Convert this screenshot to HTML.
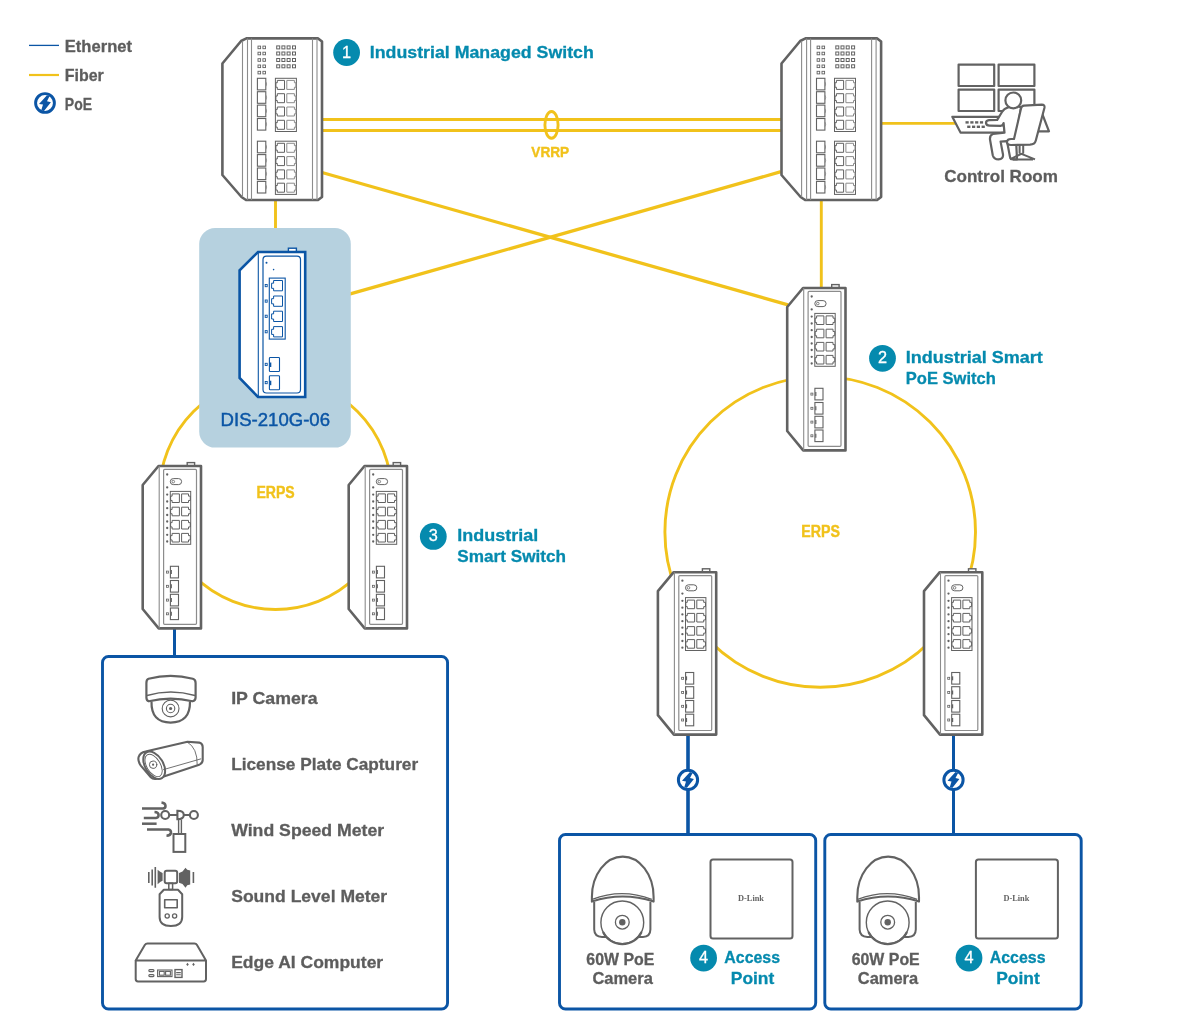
<!DOCTYPE html><html><head><meta charset="utf-8"><style>html,body{margin:0;padding:0;background:#fff;}svg{display:block;will-change:transform;}text{font-family:"Liberation Sans",sans-serif;}</style></head><body>
<svg width="1200" height="1034" viewBox="0 0 1200 1034">
<rect width="1200" height="1034" fill="#fff"/>
<defs>
<g id="ms"><path d="M246.4,38.4 L318.1,38.4 L322,41.6 L322,197 L318,200 L246,200 L241.5,197 L222.4,175 L222.4,63.5 L241.1,41 Z" fill="#fff" stroke="#626262" stroke-width="2.6" stroke-linejoin="round"/>
<path d="M242.5,41 V197 M247.5,38.4 V200 M251.5,38.4 V200 M312.5,38.4 V200 M317,38.4 V200" stroke="#8c8c8c" stroke-width="1.1" fill="none"/>
<rect x="258.00" y="46.10" width="2.6" height="2.6" fill="none" stroke="#626262" stroke-width="0.9"/>
<rect x="258.00" y="52.20" width="2.6" height="2.6" fill="none" stroke="#626262" stroke-width="0.9"/>
<rect x="258.00" y="58.70" width="2.6" height="2.6" fill="none" stroke="#626262" stroke-width="0.9"/>
<rect x="258.00" y="65.00" width="2.6" height="2.6" fill="none" stroke="#626262" stroke-width="0.9"/>
<rect x="258.00" y="71.30" width="2.6" height="2.6" fill="none" stroke="#626262" stroke-width="0.9"/>
<rect x="262.90" y="46.10" width="2.6" height="2.6" fill="none" stroke="#626262" stroke-width="0.9"/>
<rect x="262.90" y="52.20" width="2.6" height="2.6" fill="none" stroke="#626262" stroke-width="0.9"/>
<rect x="262.90" y="58.70" width="2.6" height="2.6" fill="none" stroke="#626262" stroke-width="0.9"/>
<rect x="262.90" y="65.00" width="2.6" height="2.6" fill="none" stroke="#626262" stroke-width="0.9"/>
<rect x="262.90" y="71.30" width="2.6" height="2.6" fill="none" stroke="#626262" stroke-width="0.9"/>
<rect x="276.70" y="45.90" width="3" height="3" fill="none" stroke="#626262" stroke-width="1"/>
<rect x="276.70" y="52.00" width="3" height="3" fill="none" stroke="#626262" stroke-width="1"/>
<rect x="276.70" y="58.50" width="3" height="3" fill="none" stroke="#626262" stroke-width="1"/>
<rect x="276.70" y="64.80" width="3" height="3" fill="none" stroke="#626262" stroke-width="1"/>
<rect x="281.90" y="45.90" width="3" height="3" fill="none" stroke="#626262" stroke-width="1"/>
<rect x="281.90" y="52.00" width="3" height="3" fill="none" stroke="#626262" stroke-width="1"/>
<rect x="281.90" y="58.50" width="3" height="3" fill="none" stroke="#626262" stroke-width="1"/>
<rect x="281.90" y="64.80" width="3" height="3" fill="none" stroke="#626262" stroke-width="1"/>
<rect x="287.10" y="45.90" width="3" height="3" fill="none" stroke="#626262" stroke-width="1"/>
<rect x="287.10" y="52.00" width="3" height="3" fill="none" stroke="#626262" stroke-width="1"/>
<rect x="287.10" y="58.50" width="3" height="3" fill="none" stroke="#626262" stroke-width="1"/>
<rect x="287.10" y="64.80" width="3" height="3" fill="none" stroke="#626262" stroke-width="1"/>
<rect x="292.50" y="45.90" width="3" height="3" fill="none" stroke="#626262" stroke-width="1"/>
<rect x="292.50" y="52.00" width="3" height="3" fill="none" stroke="#626262" stroke-width="1"/>
<rect x="292.50" y="58.50" width="3" height="3" fill="none" stroke="#626262" stroke-width="1"/>
<rect x="292.50" y="64.80" width="3" height="3" fill="none" stroke="#626262" stroke-width="1"/>
<rect x="257.4" y="78.30" width="8.4" height="11.6" fill="none" stroke="#626262" stroke-width="1.1"/>
<path d="M265.8,81.80 q1.5,2.3 0,4.6" fill="none" stroke="#8c8c8c" stroke-width="1"/>
<rect x="257.4" y="91.70" width="8.4" height="11.6" fill="none" stroke="#626262" stroke-width="1.1"/>
<path d="M265.8,95.20 q1.5,2.3 0,4.6" fill="none" stroke="#8c8c8c" stroke-width="1"/>
<rect x="257.4" y="105.10" width="8.4" height="11.6" fill="none" stroke="#626262" stroke-width="1.1"/>
<path d="M265.8,108.60 q1.5,2.3 0,4.6" fill="none" stroke="#8c8c8c" stroke-width="1"/>
<rect x="257.4" y="118.50" width="8.4" height="11.6" fill="none" stroke="#626262" stroke-width="1.1"/>
<path d="M265.8,122.00 q1.5,2.3 0,4.6" fill="none" stroke="#8c8c8c" stroke-width="1"/>
<rect x="275.4" y="78.30" width="21" height="53.2" fill="none" stroke="#626262" stroke-width="1.0"/>
<path d="M277.30,80.40 H284.50 V89.40 H277.30 V87.24 H275.90 V82.74 H277.30 Z" fill="none" stroke="#626262" stroke-width="1.0"/>
<path d="M294.40,80.40 H286.80 V89.40 H294.40 V87.24 H295.90 V82.74 H294.40 Z" fill="none" stroke="#8c8c8c" stroke-width="1.0"/>
<path d="M277.30,93.70 H284.50 V102.70 H277.30 V100.54 H275.90 V96.04 H277.30 Z" fill="none" stroke="#626262" stroke-width="1.0"/>
<path d="M294.40,93.70 H286.80 V102.70 H294.40 V100.54 H295.90 V96.04 H294.40 Z" fill="none" stroke="#8c8c8c" stroke-width="1.0"/>
<path d="M277.30,107.00 H284.50 V116.00 H277.30 V113.84 H275.90 V109.34 H277.30 Z" fill="none" stroke="#626262" stroke-width="1.0"/>
<path d="M294.40,107.00 H286.80 V116.00 H294.40 V113.84 H295.90 V109.34 H294.40 Z" fill="none" stroke="#8c8c8c" stroke-width="1.0"/>
<path d="M277.30,120.30 H284.50 V129.30 H277.30 V127.14 H275.90 V122.64 H277.30 Z" fill="none" stroke="#626262" stroke-width="1.0"/>
<path d="M294.40,120.30 H286.80 V129.30 H294.40 V127.14 H295.90 V122.64 H294.40 Z" fill="none" stroke="#8c8c8c" stroke-width="1.0"/>
<rect x="257.4" y="141.20" width="8.4" height="11.6" fill="none" stroke="#626262" stroke-width="1.1"/>
<path d="M265.8,144.70 q1.5,2.3 0,4.6" fill="none" stroke="#8c8c8c" stroke-width="1"/>
<rect x="257.4" y="154.60" width="8.4" height="11.6" fill="none" stroke="#626262" stroke-width="1.1"/>
<path d="M265.8,158.10 q1.5,2.3 0,4.6" fill="none" stroke="#8c8c8c" stroke-width="1"/>
<rect x="257.4" y="168.00" width="8.4" height="11.6" fill="none" stroke="#626262" stroke-width="1.1"/>
<path d="M265.8,171.50 q1.5,2.3 0,4.6" fill="none" stroke="#8c8c8c" stroke-width="1"/>
<rect x="257.4" y="181.40" width="8.4" height="11.6" fill="none" stroke="#626262" stroke-width="1.1"/>
<path d="M265.8,184.90 q1.5,2.3 0,4.6" fill="none" stroke="#8c8c8c" stroke-width="1"/>
<rect x="275.4" y="141.20" width="21" height="53.2" fill="none" stroke="#626262" stroke-width="1.0"/>
<path d="M277.30,143.30 H284.50 V152.30 H277.30 V150.14 H275.90 V145.64 H277.30 Z" fill="none" stroke="#626262" stroke-width="1.0"/>
<path d="M294.40,143.30 H286.80 V152.30 H294.40 V150.14 H295.90 V145.64 H294.40 Z" fill="none" stroke="#8c8c8c" stroke-width="1.0"/>
<path d="M277.30,156.60 H284.50 V165.60 H277.30 V163.44 H275.90 V158.94 H277.30 Z" fill="none" stroke="#626262" stroke-width="1.0"/>
<path d="M294.40,156.60 H286.80 V165.60 H294.40 V163.44 H295.90 V158.94 H294.40 Z" fill="none" stroke="#8c8c8c" stroke-width="1.0"/>
<path d="M277.30,169.90 H284.50 V178.90 H277.30 V176.74 H275.90 V172.24 H277.30 Z" fill="none" stroke="#626262" stroke-width="1.0"/>
<path d="M294.40,169.90 H286.80 V178.90 H294.40 V176.74 H295.90 V172.24 H294.40 Z" fill="none" stroke="#8c8c8c" stroke-width="1.0"/>
<path d="M277.30,183.20 H284.50 V192.20 H277.30 V190.04 H275.90 V185.54 H277.30 Z" fill="none" stroke="#626262" stroke-width="1.0"/>
<path d="M294.40,183.20 H286.80 V192.20 H294.40 V190.04 H295.90 V185.54 H294.40 Z" fill="none" stroke="#8c8c8c" stroke-width="1.0"/></g>
<g id="ss"><rect x="187.2" y="462.6" width="7.4" height="4" fill="#fff" stroke="#626262" stroke-width="1.4"/>
<path d="M158.5,466 L201,466 L201,628.4 L158.7,628.4 L142.7,609 L142.7,485 Z" fill="#fff" stroke="#626262" stroke-width="2.6" stroke-linejoin="round"/>
<path d="M159.2,466 V628.4" stroke="#8c8c8c" stroke-width="1.1"/>
<rect x="163.6" y="469.4" width="32.9" height="154.9" rx="1" fill="none" stroke="#8c8c8c" stroke-width="1.2"/>
<circle cx="167.2" cy="474.5" r="1.15" fill="#626262"/>
<circle cx="167.2" cy="487.4" r="1.15" fill="#626262"/>
<circle cx="167.2" cy="494.6" r="1.15" fill="#626262"/>
<circle cx="167.2" cy="501.5" r="1.15" fill="#626262"/>
<circle cx="167.2" cy="508.2" r="1.15" fill="#626262"/>
<circle cx="167.2" cy="515" r="1.15" fill="#626262"/>
<circle cx="167.2" cy="521.5" r="1.15" fill="#626262"/>
<circle cx="167.2" cy="528" r="1.15" fill="#626262"/>
<circle cx="167.2" cy="534.8" r="1.15" fill="#626262"/>
<circle cx="167.2" cy="541.5" r="1.15" fill="#626262"/>
<rect x="170.3" y="478.6" width="11.3" height="6" rx="3" fill="none" stroke="#626262" stroke-width="1"/>
<circle cx="173.3" cy="481.6" r="1.3" fill="none" stroke="#626262" stroke-width="0.8"/>
<rect x="170.3" y="491.4" width="20.4" height="52.9" fill="none" stroke="#626262" stroke-width="1.0"/>
<path d="M172.10,493.90 H179.40 V502.50 H172.10 V500.44 H170.60 V496.14 H172.10 Z" fill="none" stroke="#626262" stroke-width="1.0"/>
<path d="M188.50,493.90 H181.60 V502.50 H188.50 V500.44 H190.30 V496.14 H188.50 Z" fill="none" stroke="#626262" stroke-width="1.0"/>
<path d="M172.10,507.20 H179.40 V515.80 H172.10 V513.74 H170.60 V509.44 H172.10 Z" fill="none" stroke="#626262" stroke-width="1.0"/>
<path d="M188.50,507.20 H181.60 V515.80 H188.50 V513.74 H190.30 V509.44 H188.50 Z" fill="none" stroke="#626262" stroke-width="1.0"/>
<path d="M172.10,520.40 H179.40 V529.00 H172.10 V526.94 H170.60 V522.64 H172.10 Z" fill="none" stroke="#626262" stroke-width="1.0"/>
<path d="M188.50,520.40 H181.60 V529.00 H188.50 V526.94 H190.30 V522.64 H188.50 Z" fill="none" stroke="#626262" stroke-width="1.0"/>
<path d="M172.10,533.40 H179.40 V542.00 H172.10 V539.94 H170.60 V535.64 H172.10 Z" fill="none" stroke="#626262" stroke-width="1.0"/>
<path d="M188.50,533.40 H181.60 V542.00 H188.50 V539.94 H190.30 V535.64 H188.50 Z" fill="none" stroke="#626262" stroke-width="1.0"/>
<rect x="170.4" y="566.3" width="8.1" height="11.6" fill="none" stroke="#626262" stroke-width="1.1"/>
<path d="M171.3,570.1 v4" stroke="#626262" stroke-width="1.2"/>
<rect x="166.4" y="571.1" width="2" height="2" fill="none" stroke="#626262" stroke-width="0.8"/>
<rect x="170.4" y="580.5" width="8.1" height="11.6" fill="none" stroke="#626262" stroke-width="1.1"/>
<path d="M171.3,584.3 v4" stroke="#626262" stroke-width="1.2"/>
<rect x="166.4" y="585.3" width="2" height="2" fill="none" stroke="#626262" stroke-width="0.8"/>
<rect x="170.4" y="594.3" width="8.1" height="11.6" fill="none" stroke="#626262" stroke-width="1.1"/>
<path d="M171.3,598.1 v4" stroke="#626262" stroke-width="1.2"/>
<rect x="166.4" y="599.1" width="2" height="2" fill="none" stroke="#626262" stroke-width="0.8"/>
<rect x="170.4" y="608.0" width="8.1" height="11.6" fill="none" stroke="#626262" stroke-width="1.1"/>
<path d="M171.3,611.8 v4" stroke="#626262" stroke-width="1.2"/>
<rect x="166.4" y="612.8" width="2" height="2" fill="none" stroke="#626262" stroke-width="0.8"/></g>
</defs>
<path d="M29,45.4 H59" stroke="#0B55A5" stroke-width="1.3"/>
<path d="M29,75 H59" stroke="#F1C21B" stroke-width="2.2"/>
<g transform="translate(45,103.0)"><circle r="9.4" fill="#fff" stroke="#0B55A5" stroke-width="2.9"/><path d="M2,-7.8 L-6,0.9 L-2,1.6 L-3.8,7.6 L-1,7.9 L5.9,-0.8 L2,-1.8 L4.6,-7 Z" fill="#0B55A5"/></g>
<text x="64.8" y="52.4" font-size="17" font-weight="bold" fill="#5D5D5D" text-anchor="start" textLength="67.2" lengthAdjust="spacingAndGlyphs" stroke="#5D5D5D" stroke-width="0.3">Ethernet</text>
<text x="64.8" y="81" font-size="17" font-weight="bold" fill="#5D5D5D" text-anchor="start" textLength="39" lengthAdjust="spacingAndGlyphs" stroke="#5D5D5D" stroke-width="0.3">Fiber</text>
<text x="64.8" y="110" font-size="17" font-weight="bold" fill="#5D5D5D" text-anchor="start" textLength="27.2" lengthAdjust="spacingAndGlyphs" stroke="#5D5D5D" stroke-width="0.3">PoE</text>
<g stroke="#F1C21B" stroke-width="2.9" fill="none">
<path d="M322,119.5 H781 M322,130.5 H781"/>
<path d="M322,172.5 L788,304.8" stroke-width="3.3"/>
<path d="M781,171.7 L330,299.7" stroke-width="3.3"/>
<path d="M275.5,200 V230 M821.3,200 V290 M881,123.4 H956"/>
<ellipse cx="551.5" cy="124.9" rx="6.6" ry="13.4"/>
<circle cx="275.5" cy="493.5" r="116"/>
<circle cx="820.2" cy="531.9" r="155.3"/>
</g>
<text x="531.3" y="157.1" font-size="15.5" font-weight="bold" fill="#F1C21B" text-anchor="start" textLength="37.9" lengthAdjust="spacingAndGlyphs" stroke="#F1C21B" stroke-width="0.4">VRRP</text>
<text x="944.2" y="181.6" font-size="17" font-weight="bold" fill="#5D5D5D" text-anchor="start" textLength="113.8" lengthAdjust="spacingAndGlyphs" stroke="#5D5D5D" stroke-width="0.3">Control Room</text>
<g stroke="#0B55A5" stroke-width="3" fill="none">
<path d="M174.5,627 V657 M953.5,734 V835"/><path d="M688,734 V835" stroke-width="3.6"/>
</g>
<g transform="translate(688,779.9)"><circle r="9.6" fill="#fff" stroke="#0B55A5" stroke-width="3"/><path d="M2,-7.8 L-6,0.9 L-2,1.6 L-3.8,7.6 L-1,7.9 L5.9,-0.8 L2,-1.8 L4.6,-7 Z" fill="#0B55A5"/></g>
<g transform="translate(953.5,779.9)"><circle r="9.6" fill="#fff" stroke="#0B55A5" stroke-width="3"/><path d="M2,-7.8 L-6,0.9 L-2,1.6 L-3.8,7.6 L-1,7.9 L5.9,-0.8 L2,-1.8 L4.6,-7 Z" fill="#0B55A5"/></g>
<use href="#ms"/>
<use href="#ms" x="559.1"/>
<circle cx="346.6" cy="52.5" r="13.4" fill="#058AAE"/><text x="346.6" y="57.5" font-size="16.3" font-weight="normal" fill="#fff" text-anchor="middle" stroke="#fff" stroke-width="0.3">1</text>
<text x="369.8" y="57.5" font-size="17" font-weight="bold" fill="#058AAE" text-anchor="start" textLength="224" lengthAdjust="spacingAndGlyphs" stroke="#058AAE" stroke-width="0.3">Industrial Managed Switch</text>
<rect x="199.2" y="228.1" width="151.6" height="219.5" rx="16" fill="#B6D1DF"/>
<rect x="288.4" y="248.2" width="8" height="4" fill="#fff" stroke="#0B55A5" stroke-width="1.4"/>
<path d="M258,252 L305.2,252 L305.2,397 L258,397 L239.6,378 L239.6,270.3 Z" fill="#fff" stroke="#0B55A5" stroke-width="2.6" stroke-linejoin="miter"/>
<path d="M258.3,252 V397" stroke="#0B55A5" stroke-width="1.1"/>
<rect x="263" y="256.1" width="37.5" height="136.9" rx="3.5" fill="none" stroke="#0B55A5" stroke-width="1.2"/>
<circle cx="266.5" cy="262.8" r="1" fill="#0B55A5"/><circle cx="273.6" cy="269.6" r="0.8" fill="#0B55A5"/>
<rect x="269.3" y="278.1" width="15.9" height="61" fill="none" stroke="#0B55A5" stroke-width="1.1"/>
<path d="M273.60,280.50 H282.50 V290.80 H273.60 V288.33 H271.60 V283.18 H273.60 Z" fill="none" stroke="#0B55A5" stroke-width="1.0"/>
<rect x="265.2" y="284.5" width="2" height="2.2" fill="none" stroke="#0B55A5" stroke-width="0.9"/>
<path d="M273.60,296.00 H282.50 V306.30 H273.60 V303.83 H271.60 V298.68 H273.60 Z" fill="none" stroke="#0B55A5" stroke-width="1.0"/>
<rect x="265.2" y="300.0" width="2" height="2.2" fill="none" stroke="#0B55A5" stroke-width="0.9"/>
<path d="M273.60,311.20 H282.50 V321.50 H273.60 V319.03 H271.60 V313.88 H273.60 Z" fill="none" stroke="#0B55A5" stroke-width="1.0"/>
<rect x="265.2" y="315.2" width="2" height="2.2" fill="none" stroke="#0B55A5" stroke-width="0.9"/>
<path d="M273.60,326.60 H282.50 V336.90 H273.60 V334.43 H271.60 V329.28 H273.60 Z" fill="none" stroke="#0B55A5" stroke-width="1.0"/>
<rect x="265.2" y="330.6" width="2" height="2.2" fill="none" stroke="#0B55A5" stroke-width="0.9"/>
<rect x="269.4" y="357.5" width="10.1" height="14" rx="0.8" fill="none" stroke="#0B55A5" stroke-width="1.1"/>
<path d="M270.6,362.5 v4.5" stroke="#0B55A5" stroke-width="1.4"/>
<rect x="265.2" y="363.3" width="2" height="2.2" fill="none" stroke="#0B55A5" stroke-width="0.9"/>
<rect x="269.4" y="375.7" width="10.1" height="14" rx="0.8" fill="none" stroke="#0B55A5" stroke-width="1.1"/>
<path d="M270.6,380.7 v4.5" stroke="#0B55A5" stroke-width="1.4"/>
<rect x="265.2" y="381.5" width="2" height="2.2" fill="none" stroke="#0B55A5" stroke-width="0.9"/>
<text x="220.6" y="425.5" font-size="18.2" font-weight="normal" fill="#0B55A5" text-anchor="start" textLength="109.4" lengthAdjust="spacingAndGlyphs" stroke="#0B55A5" stroke-width="0.45">DIS-210G-06</text>
<use href="#ss"/>
<use href="#ss" x="206"/>
<use href="#ss" x="644.5" y="-178"/>
<use href="#ss" x="515.2" y="106.2"/>
<use href="#ss" x="781.3" y="106.2"/>
<text x="256.4" y="497.7" font-size="16" font-weight="bold" fill="#F1C21B" text-anchor="start" textLength="38.2" lengthAdjust="spacingAndGlyphs" stroke="#F1C21B" stroke-width="0.4">ERPS</text>
<text x="801.3" y="536.6" font-size="16" font-weight="bold" fill="#F1C21B" text-anchor="start" textLength="38.7" lengthAdjust="spacingAndGlyphs" stroke="#F1C21B" stroke-width="0.4">ERPS</text>
<circle cx="433.3" cy="536.4" r="13.4" fill="#058AAE"/><text x="433.3" y="541.4" font-size="16.3" font-weight="normal" fill="#fff" text-anchor="middle" stroke="#fff" stroke-width="0.3">3</text>
<text x="457.3" y="540.5" font-size="17" font-weight="bold" fill="#058AAE" text-anchor="start" textLength="81" lengthAdjust="spacingAndGlyphs" stroke="#058AAE" stroke-width="0.3">Industrial</text>
<text x="457.3" y="561.5" font-size="17" font-weight="bold" fill="#058AAE" text-anchor="start" textLength="108.7" lengthAdjust="spacingAndGlyphs" stroke="#058AAE" stroke-width="0.3">Smart Switch</text>
<circle cx="882.5" cy="358.3" r="13.4" fill="#058AAE"/><text x="882.5" y="363.3" font-size="16.3" font-weight="normal" fill="#fff" text-anchor="middle" stroke="#fff" stroke-width="0.3">2</text>
<text x="905.8" y="362.8" font-size="17" font-weight="bold" fill="#058AAE" text-anchor="start" textLength="137" lengthAdjust="spacingAndGlyphs" stroke="#058AAE" stroke-width="0.3">Industrial Smart</text>
<text x="905.8" y="383.8" font-size="17" font-weight="bold" fill="#058AAE" text-anchor="start" textLength="90" lengthAdjust="spacingAndGlyphs" stroke="#058AAE" stroke-width="0.3">PoE Switch</text>
<g fill="none" stroke="#0B55A5" stroke-width="2.9">
<rect x="102.5" y="656.45" width="345.05" height="352.6" rx="6"/>
<rect x="559.5" y="834.5" width="256.2" height="174.5" rx="6"/>
<rect x="824.8" y="834.5" width="256.4" height="174.5" rx="6"/>
</g>
<text x="231.2" y="703.6" font-size="17" font-weight="bold" fill="#5D5D5D" text-anchor="start" textLength="86.3" lengthAdjust="spacingAndGlyphs" stroke="#5D5D5D" stroke-width="0.3">IP Camera</text>
<text x="231.2" y="769.6" font-size="17" font-weight="bold" fill="#5D5D5D" text-anchor="start" textLength="187" lengthAdjust="spacingAndGlyphs" stroke="#5D5D5D" stroke-width="0.3">License Plate Capturer</text>
<text x="231.2" y="835.6" font-size="17" font-weight="bold" fill="#5D5D5D" text-anchor="start" textLength="153" lengthAdjust="spacingAndGlyphs" stroke="#5D5D5D" stroke-width="0.3">Wind Speed Meter</text>
<text x="231.2" y="901.6" font-size="17" font-weight="bold" fill="#5D5D5D" text-anchor="start" textLength="156" lengthAdjust="spacingAndGlyphs" stroke="#5D5D5D" stroke-width="0.3">Sound Level Meter</text>
<text x="231.2" y="967.6" font-size="17" font-weight="bold" fill="#5D5D5D" text-anchor="start" textLength="152" lengthAdjust="spacingAndGlyphs" stroke="#5D5D5D" stroke-width="0.3">Edge AI Computer</text>
<g transform="translate(0,0)">
<text x="586.3" y="964.6" font-size="16.5" font-weight="bold" fill="#5D5D5D" text-anchor="start" textLength="68" lengthAdjust="spacingAndGlyphs" stroke="#5D5D5D" stroke-width="0.3">60W PoE</text>
<text x="592.4" y="984" font-size="16.5" font-weight="bold" fill="#5D5D5D" text-anchor="start" textLength="60.4" lengthAdjust="spacingAndGlyphs" stroke="#5D5D5D" stroke-width="0.3">Camera</text>
<rect x="710.5" y="859.4" width="82" height="79.1" rx="2.5" fill="none" stroke="#626262" stroke-width="2"/>
<text x="738" y="901" font-size="7.6" font-weight="bold" fill="#626262" textLength="26" lengthAdjust="spacingAndGlyphs" style="font-family:'Liberation Serif',serif">D-Link</text>
<circle cx="703.6" cy="958.1" r="13.4" fill="#058AAE"/><text x="703.6" y="963.1" font-size="16.3" font-weight="normal" fill="#fff" text-anchor="middle" stroke="#fff" stroke-width="0.3">4</text>
<text x="724.3" y="963.2" font-size="17" font-weight="bold" fill="#058AAE" text-anchor="start" textLength="55.8" lengthAdjust="spacingAndGlyphs" stroke="#058AAE" stroke-width="0.3">Access</text>
<text x="730.8" y="983.5" font-size="17" font-weight="bold" fill="#058AAE" text-anchor="start" textLength="43.5" lengthAdjust="spacingAndGlyphs" stroke="#058AAE" stroke-width="0.3">Point</text>
</g>
<g transform="translate(265.4,0)">
<text x="586.3" y="964.6" font-size="16.5" font-weight="bold" fill="#5D5D5D" text-anchor="start" textLength="68" lengthAdjust="spacingAndGlyphs" stroke="#5D5D5D" stroke-width="0.3">60W PoE</text>
<text x="592.4" y="984" font-size="16.5" font-weight="bold" fill="#5D5D5D" text-anchor="start" textLength="60.4" lengthAdjust="spacingAndGlyphs" stroke="#5D5D5D" stroke-width="0.3">Camera</text>
<rect x="710.5" y="859.4" width="82" height="79.1" rx="2.5" fill="none" stroke="#626262" stroke-width="2"/>
<text x="738" y="901" font-size="7.6" font-weight="bold" fill="#626262" textLength="26" lengthAdjust="spacingAndGlyphs" style="font-family:'Liberation Serif',serif">D-Link</text>
<circle cx="703.6" cy="958.1" r="13.4" fill="#058AAE"/><text x="703.6" y="963.1" font-size="16.3" font-weight="normal" fill="#fff" text-anchor="middle" stroke="#fff" stroke-width="0.3">4</text>
<text x="724.3" y="963.2" font-size="17" font-weight="bold" fill="#058AAE" text-anchor="start" textLength="55.8" lengthAdjust="spacingAndGlyphs" stroke="#058AAE" stroke-width="0.3">Access</text>
<text x="730.8" y="983.5" font-size="17" font-weight="bold" fill="#058AAE" text-anchor="start" textLength="43.5" lengthAdjust="spacingAndGlyphs" stroke="#058AAE" stroke-width="0.3">Point</text>
</g>
<g fill="none" stroke="#626262" stroke-width="2.2" stroke-linejoin="round" stroke-linecap="round">
<rect x="958.6" y="64.6" width="35.6" height="21.4"/>
<rect x="998.6" y="64.6" width="35.8" height="21.4"/>
<rect x="958.6" y="89.6" width="35.6" height="21.4"/>
<rect x="998.6" y="89.6" width="35.8" height="21.4"/>
</g>
<path d="M1041.5,112 L1049,131.3 L1037,131.3 Z" fill="#fff" stroke="#626262" stroke-width="2.2" stroke-linejoin="round"/>
<path d="M952.3,116.8 L1002,116.8 L1005,132.6 L960.5,132.6 Z" fill="#fff" stroke="#626262" stroke-width="2.2" stroke-linejoin="round"/>
<rect x="965.5" y="121.2" width="3.2" height="2.4" fill="#626262"/>
<rect x="970.3" y="121.2" width="3.2" height="2.4" fill="#626262"/>
<rect x="975.1" y="121.2" width="3.2" height="2.4" fill="#626262"/>
<rect x="979.9" y="121.2" width="3.2" height="2.4" fill="#626262"/>
<rect x="967.2" y="125.6" width="3.2" height="2.4" fill="#626262"/>
<rect x="972.0" y="125.6" width="3.2" height="2.4" fill="#626262"/>
<rect x="976.8" y="125.6" width="3.2" height="2.4" fill="#626262"/>
<rect x="981.6" y="125.6" width="3.2" height="2.4" fill="#626262"/>
<path d="M1008,107.5 Q1004,108.5 1002,112 L997.2,119.8 L989,120.2 Q986,120.5 986,123 Q986.3,125.6 989.5,125.6 L1000.5,125.8 Q1003,125.6 1003.6,123 L1004.5,132.6 L993,134 Q989.6,135 990,139.5 L992.8,155.5 Q994,159.4 998.5,159.4 Q1003.5,159 1003,154.5 L1000.6,141.6 L1007,141.2 L1010,157 Q1010.5,159.4 1013,159.4 L1017,159.4 L1016,139 L1021,107.5 Q1014,103 1008,107.5 Z" fill="#fff" stroke="#626262" stroke-width="2.2" stroke-linejoin="round"/>
<circle cx="1013.3" cy="100.4" r="7.9" fill="#fff" stroke="#626262" stroke-width="2.2"/>
<path d="M1024,105.6 L1041.8,104.6 Q1045,104.6 1044.4,108 L1035.8,140.5 Q1034.8,144.5 1030,144.7 L1011,145 Q1006.8,145 1007,141.5 Q1007.5,138.8 1011.5,139 L1014,139 L1021,108.5 Q1021.7,105.8 1024,105.6 Z" fill="#fff" stroke="#626262" stroke-width="2.2" stroke-linejoin="round"/>
<path d="M1019.6,145 V153.5 M1023.2,145 V153.5 M1010,159.4 L1021.4,153.8 L1035,159.4 M1013,159.4 H1033" fill="none" stroke="#626262" stroke-width="2" stroke-linejoin="round"/>
<g fill="none" stroke="#626262" stroke-linejoin="round">
<path d="M151.5,701.5 Q151,722.6 170.6,722.6 Q190.3,722.6 190,701.5" stroke-width="2.2" fill="#fff"/>
<path d="M148.5,678.8 Q170.6,673 192.8,678.8 Q195.6,679.6 195.6,683 V697.5 Q195.6,700.6 192.5,701.3 Q170.6,696 148.8,701.3 Q146.4,700.6 146.4,697.5 V683 Q146.4,679.6 148.5,678.8 Z" stroke-width="2.2" fill="#fff"/>
<path d="M147,695.5 Q170.6,688.5 195,695.5" stroke-width="1.4"/>
<circle cx="170.6" cy="708.5" r="8.4" stroke-width="1.1"/>
<circle cx="170.6" cy="708.5" r="4.2" stroke-width="1.1"/>
<circle cx="170.6" cy="708.5" r="1.6" fill="#626262" stroke="none"/>
</g>
<g fill="none" stroke="#626262" stroke-linejoin="round" stroke-linecap="round">
<path d="M145.5,751.6 L187.5,741.7 L199.2,742.6 Q202.7,743.5 202.7,747 L202.7,760.1 Q202.5,763.8 199.2,764.8 L157,778.7 Q153,779.6 150.8,777.3 L140.8,765.6 Q137.6,761.2 138.6,757 Q140.2,752.5 145.5,751.6 Z" stroke-width="2.1" fill="#fff"/>
<ellipse cx="154.2" cy="765.2" rx="9" ry="15" transform="rotate(-31 154.2 765.2)" stroke-width="2" fill="#fff"/>
<ellipse cx="153.6" cy="765.4" rx="6.8" ry="12.4" transform="rotate(-31 153.6 765.4)" stroke-width="0.9"/>
<path d="M163.5,769.6 L200.8,758.9 M187.5,742.2 Q197.5,748 197.2,764.4" stroke-width="0.9"/>
<circle cx="153.1" cy="764.7" r="3.7" stroke-width="1"/>
<circle cx="153.1" cy="764.7" r="1.1" fill="#626262" stroke="none"/>
</g>
<g fill="none" stroke="#626262" stroke-width="2.1" stroke-linecap="butt">
<path stroke-width="2.5" d="M142,808.6 H163 Q165.8,808.2 165.5,805.6 Q165.2,803 161.5,802.5"/>
<path stroke-width="2.5" d="M143.8,818 H156 Q158.6,817.6 158.6,815 Q158.6,812.2 154.5,812"/>
<path stroke-width="2.5" d="M142,823.7 H156.6"/>
<path stroke-width="2.5" d="M147,829.4 H168.5 Q171.2,829.8 171,832.8 Q170.6,835.6 166.5,835.8"/>
<circle cx="165.2" cy="815" r="4"/>
<circle cx="193.9" cy="815" r="4"/>
<path d="M169.2,815 H177.3 M184,815 H189.9"/>
<path d="M177.4,810.8 V819.2 Q183.8,819.2 183.8,815 Q183.8,810.8 177.4,810.8 Z"/>
<path d="M178.6,819.5 V834 M181.4,819.5 V834" stroke-width="1.4"/>
<rect x="173.5" y="834" width="11.8" height="17.9" stroke-width="2"/>
</g>
<g fill="none" stroke="#626262" stroke-width="2" stroke-linejoin="round">
<rect x="164.7" y="870.8" width="12.5" height="12.5" rx="2"/>
<rect x="168.8" y="883.3" width="3.8" height="6.3" stroke-width="1.5"/>
<path d="M163.8,889.7 H178 L182.2,894.2 V917 Q182.2,926 170.9,926 Q159.6,926 159.6,917 V894.2 Z"/>
<rect x="164.7" y="899.7" width="12.5" height="8.1" stroke-width="1.6"/>
<circle cx="167.2" cy="916" r="2.1" stroke-width="1.3"/>
<circle cx="174.6" cy="916" r="2.1" stroke-width="1.3"/>
<path d="M148.8,872 V883 M152.2,869.5 V885.5 M155.3,867 V887.8" stroke-width="1.6"/>
<path d="M193.4,872 V883" stroke-width="1.6"/>
</g>
<path d="M157.6,869.8 L160.2,871.8 L162.6,873 V880.8 L160.2,882 L157.6,884.2 Z" fill="#626262"/>
<path d="M179,873 L182.5,871.5 L185.5,867.8 L187.2,869.8 L190.2,870.5 V884.5 L187.2,885.2 L185.5,887.8 L182.5,884 L179,882.8 Z" fill="#626262"/>
<g fill="none" stroke="#626262" stroke-width="2" stroke-linejoin="round">
<path d="M147.5,943.6 H194.4 Q196.2,943.6 197,945 L206,960.6 H135.7 L144.8,945 Q145.7,943.6 147.5,943.6 Z"/>
<path d="M135.7,960.6 V979 Q135.7,981.4 138,981.4 H203.7 Q206,981.4 206,979 V960.6"/>
</g>
<g fill="none" stroke="#626262" stroke-width="1.1">
<rect x="148.8" y="969.6" width="5.2" height="2" rx="1"/>
<rect x="148.8" y="974.6" width="5.2" height="2" rx="1"/>
<rect x="157.6" y="970" width="14.4" height="6.6"/>
<rect x="159.4" y="971.4" width="4.8" height="3.8"/>
<rect x="165.6" y="971.4" width="4.8" height="3.8"/>
<rect x="175" y="969.6" width="7" height="7.8" stroke-width="1.4"/>
<path d="M176.2,972.6 H180.8 M176.2,974.8 H180.8"/>
</g>
<path d="M187.5,962.8 l1.3,1.6 -1.3,1.6 -1.3,-1.6 Z M193.5,962.8 l1.3,1.6 -1.3,1.6 -1.3,-1.6 Z" fill="#626262"/>
<g transform="translate(0,0)" fill="none" stroke="#626262" stroke-linejoin="round">
<path d="M594.2,902 V929.5 Q594.4,936.8 602,936.9 L643,936.9 Q650.3,936.8 650.4,929.5 V902" stroke-width="2" fill="#fff"/>
<path d="M591.9,901.6 V897 A30.85,40.4 0 0 1 653.6,897 V901.6 Q622.6,891.5 591.9,901.6 Z" stroke-width="2.1" fill="#fff"/>
<path d="M592.2,899.4 Q621.8,888 651.8,899.4" stroke-width="1.2"/>
<circle cx="622.3" cy="922.4" r="21.4" stroke-width="1.4" fill="#fff"/>
<path d="M603,932 A21.4,21.4 0 0 0 641.6,932" stroke-width="2.2"/>
<circle cx="622.3" cy="922.2" r="6.9" stroke-width="1.3"/>
<circle cx="622.3" cy="922.2" r="3.2" fill="#626262" stroke="none"/>
</g>
<g transform="translate(265.4,0)" fill="none" stroke="#626262" stroke-linejoin="round">
<path d="M594.2,902 V929.5 Q594.4,936.8 602,936.9 L643,936.9 Q650.3,936.8 650.4,929.5 V902" stroke-width="2" fill="#fff"/>
<path d="M591.9,901.6 V897 A30.85,40.4 0 0 1 653.6,897 V901.6 Q622.6,891.5 591.9,901.6 Z" stroke-width="2.1" fill="#fff"/>
<path d="M592.2,899.4 Q621.8,888 651.8,899.4" stroke-width="1.2"/>
<circle cx="622.3" cy="922.4" r="21.4" stroke-width="1.4" fill="#fff"/>
<path d="M603,932 A21.4,21.4 0 0 0 641.6,932" stroke-width="2.2"/>
<circle cx="622.3" cy="922.2" r="6.9" stroke-width="1.3"/>
<circle cx="622.3" cy="922.2" r="3.2" fill="#626262" stroke="none"/>
</g>
</svg></body></html>
